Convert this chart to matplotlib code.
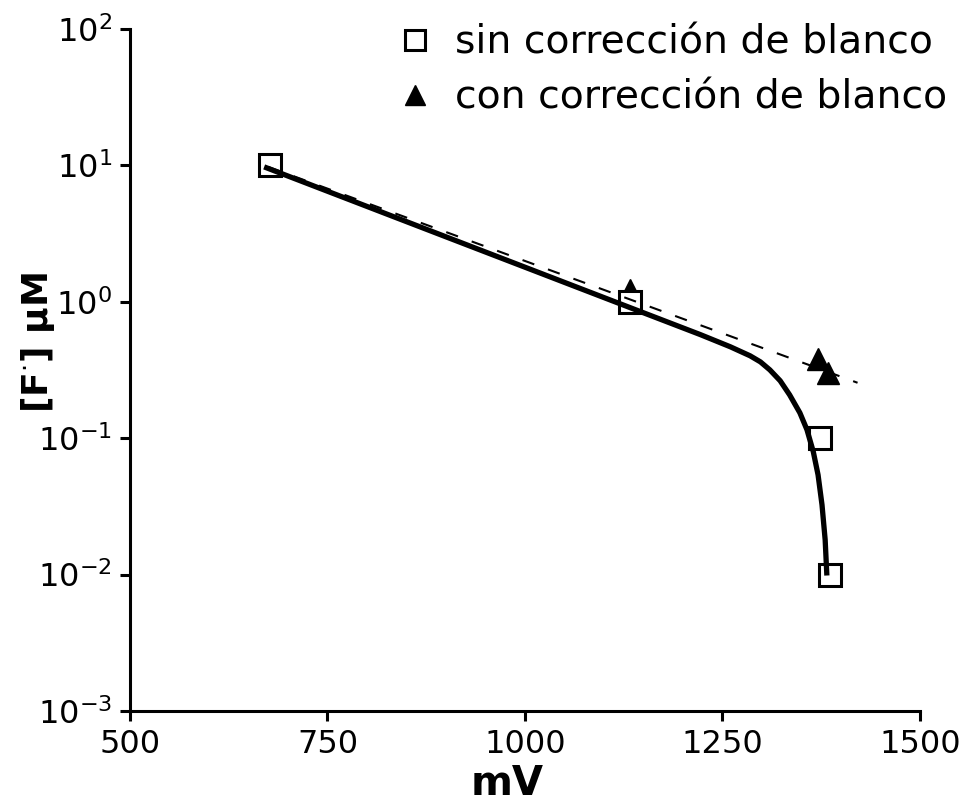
import matplotlib
matplotlib.use("Agg")
import matplotlib.pyplot as plt
from matplotlib.lines import Line2D

# data
mv_sin = [677, 1133, 1373, 1386]          # sin correccion de blanco
f_sin = [10.0, 1.0, 0.1, 0.01]

mv_con = [1133, 1371, 1383]               # con correccion de blanco
f_con = [1.22, 0.38, 0.30]

# solid fitted curve
mv_fit = [673, 905, 1133, 1222, 1260, 1285, 1298, 1310, 1323, 1335,
          1348, 1357, 1365, 1371, 1376, 1380, 1382]
f_fit = [9.6, 2.92, 0.907, 0.575, 0.468, 0.402, 0.363, 0.317, 0.264, 0.208,
         0.1535, 0.1153, 0.0795, 0.0539, 0.0325, 0.018, 0.0103]

# dashed fitted line
mv_lin = [675, 1421]
f_lin = [9.75, 0.255]

xticks = [500, 750, 1000, 1250, 1500]

plt.rcParams['font.family'] = ['DejaVu Sans']

fig = plt.figure(figsize=(9.62, 8.08), dpi=100)
ax = fig.add_axes([0.1351, 0.12, 0.8212, 0.8441])

ax.plot(mv_con, f_con, linestyle='none', marker='^', ms=16, color='k',
        zorder=2)
ax.plot(mv_sin, f_sin, linestyle='none', marker='s', ms=16, mfc='white',
        mec='k', mew=2.2, zorder=3)
ax.plot(mv_lin, f_lin, '--', color='k', lw=1.5, dashes=(6, 7), zorder=4)
ax.plot(mv_fit, f_fit, '-', color='k', lw=3.8, zorder=5)

ax.set_yscale('log')
ax.set_xlim(500, 1500)
ax.set_ylim(1e-3, 1e2)
ax.set_xticks(xticks)
ax.set_xticklabels([str(t) for t in xticks])
ax.minorticks_off()

for s in ['top', 'right']:
    ax.spines[s].set_visible(False)
for s in ['left', 'bottom']:
    ax.spines[s].set_linewidth(2.2)

ax.tick_params(axis='both', direction='out', length=7, width=2.2,
               labelsize=23, pad=6)

ax.set_xlabel('mV', fontsize=29, fontweight='bold')
ax.set_ylabel(r'[F$^{\cdot}$] μM', fontsize=26, fontweight='bold')
ax.xaxis.set_label_coords(0.477, -0.078)
ax.yaxis.set_label_coords(-0.092, 0.54)

handles = [
    Line2D([], [], linestyle='none', marker='s', ms=15, mfc='white',
           mec='k', mew=2.2),
    Line2D([], [], linestyle='none', marker='^', ms=15, color='k'),
]
labels = ['sin corrección de blanco', 'con corrección de blanco']
fig.legend(handles, labels, loc='upper left', bbox_to_anchor=(0.395, 0.995),
           frameon=False, fontsize=28.4, handlelength=0.8, handletextpad=0.6,
           borderpad=0, labelspacing=0.43)

fig.savefig('out.png', dpi=100)
